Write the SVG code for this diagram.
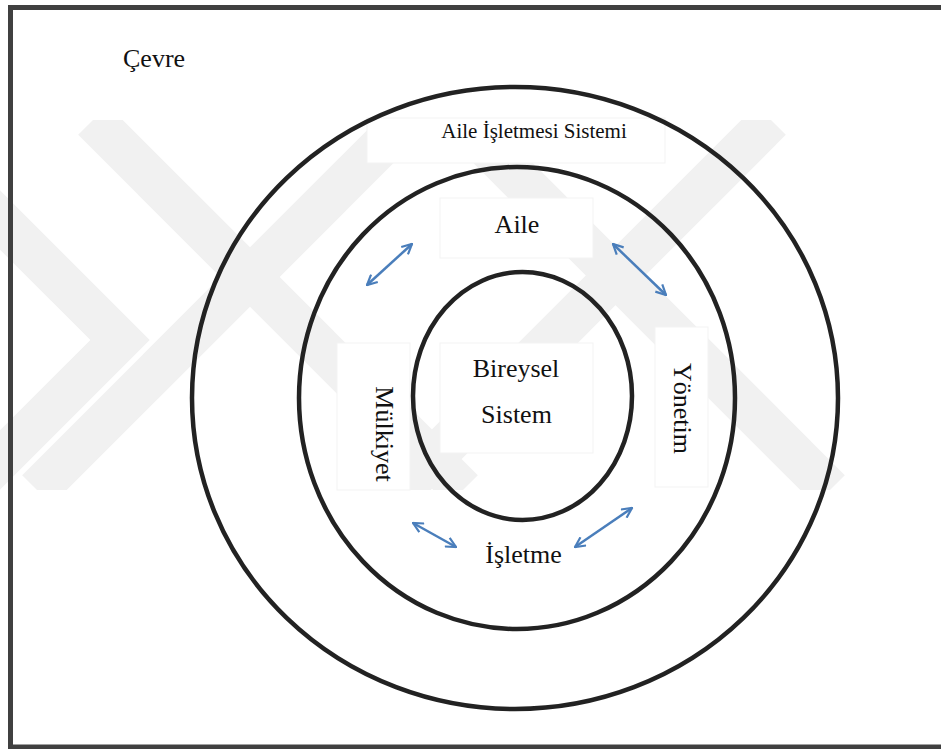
<svg xmlns="http://www.w3.org/2000/svg" width="941" height="749" viewBox="0 0 941 749">
  <style>
    .ring { fill: none; stroke: #222222; stroke-width: 4.5; }
    .lbl { font-family: "Liberation Serif", "Times New Roman", serif; font-size: 26px; fill: #111111; }
    .small { font-size: 21px; }
    .box { fill: #ffffff; stroke: #f3f3f3; stroke-width: 1; }
    .band { fill: none; stroke: #f1f1f1; stroke-width: 42; stroke-linecap: butt; }
    .link { fill: none; stroke: #4a7ebb; stroke-width: 2.5; marker-start: url(#head); marker-end: url(#head); }
  </style>
  <defs>
    <marker id="head" viewBox="0 0 12 12" refX="11" refY="6" markerWidth="12" markerHeight="12" markerUnits="userSpaceOnUse" orient="auto-start-reverse">
      <path d="M1,1 L11,6 L1,11" fill="none" stroke="#4a7ebb" stroke-width="2.2" stroke-linejoin="miter"/>
    </marker>
    <clipPath id="wmclip">
      <rect x="0" y="120" width="941" height="370"/>
    </clipPath>
  </defs>

  <rect x="0" y="0" width="941" height="749" fill="#ffffff"/>

  <!-- faint background mark -->
  <g id="watermark" clip-path="url(#wmclip)">
    <path class="band" d="M93,120 L463,490"/>
    <path class="band" d="M37,490 L407,120"/>
    <path class="band" d="M-60,160 L120,340 L-30,490"/>
    <path class="band" d="M771,120 L401,490"/>
    <path class="band" d="M830,490 L460,120"/>
  </g>

  <!-- frame -->
  <rect id="frame" x="10.5" y="7.5" width="940" height="739.5" fill="none" stroke="#404040" stroke-width="5"/>

  <!-- text boxes -->
  <g id="boxes">
    <rect class="box" x="367" y="118" width="298" height="45"/>
    <rect class="box" x="440" y="198" width="153" height="60"/>
    <rect class="box" x="440" y="343" width="153" height="110"/>
    <rect class="box" x="337" y="343" width="73" height="147"/>
    <rect class="box" x="655" y="327" width="53" height="160"/>
  </g>

  <g id="environment">
    <text class="lbl" x="123" y="67">Çevre</text>
  </g>

  <g id="family-business-system">
    <ellipse class="ring" cx="515" cy="398" rx="323" ry="311"/>
    <text class="lbl small" x="534" y="138" text-anchor="middle">Aile İşletmesi Sistemi</text>
  </g>

  <g id="subsystems">
    <ellipse class="ring" cx="517" cy="398" rx="218" ry="231"/>
    <text class="lbl" x="517" y="233" text-anchor="middle">Aile</text>
    <text class="lbl" x="523.5" y="563" text-anchor="middle">İşletme</text>
    <text class="lbl" transform="translate(376,434) rotate(90)" text-anchor="middle">Mülkiyet</text>
    <text class="lbl" transform="translate(674,408.5) rotate(90)" text-anchor="middle">Yönetim</text>
  </g>

  <g id="individual-system">
    <ellipse class="ring" cx="522.5" cy="396" rx="109.5" ry="124"/>
    <text class="lbl" x="516" y="377" text-anchor="middle">Bireysel</text>
    <text class="lbl" x="516.5" y="423" text-anchor="middle">Sistem</text>
  </g>

  <g id="connectors">
    <line class="link" x1="367" y1="285" x2="412" y2="244"/>
    <line class="link" x1="613" y1="244" x2="666" y2="295"/>
    <line class="link" x1="413" y1="523" x2="456" y2="547"/>
    <line class="link" x1="575" y1="547" x2="632" y2="508"/>
  </g>
</svg>
